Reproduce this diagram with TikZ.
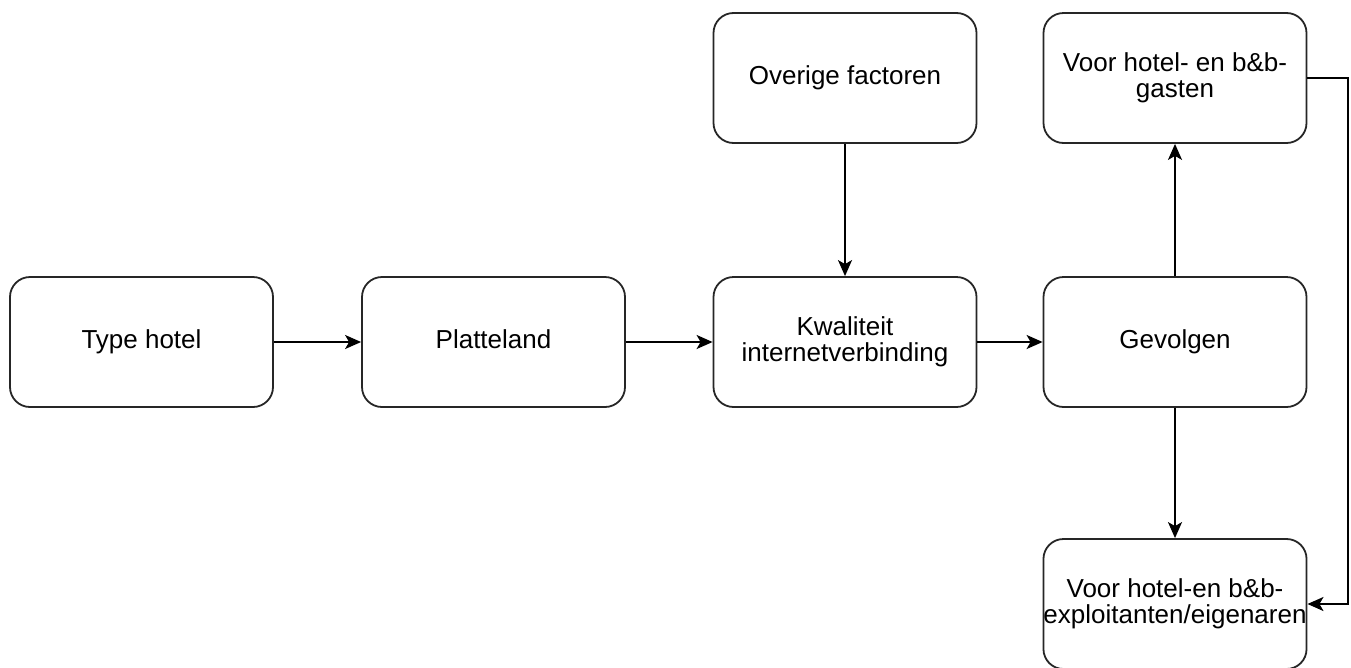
\documentclass[tikz,border=0pt]{standalone}
\usepackage{fontspec}
\setmainfont{Liberation Sans}
\usetikzlibrary{arrows.meta}
\begin{document}
\begin{tikzpicture}[x=1pt,y=-1pt,
  box/.style={draw=black!85,line width=1.8pt,rounded corners=20pt,minimum width=263pt,minimum height=130pt,inner sep=0pt,align=center,font=\fontsize{26}{26}\selectfont,text=black},
  oneline/.style={text height=19pt,text depth=6pt},
  conn/.style={draw=black,line width=1.8pt,-{Stealth[length=16pt,width=14pt,inset=4pt]}}]
\useasboundingbox (0,0) rectangle (1351,667);
\node[box,oneline] (type) at (141.5,342) {Type hotel};
\node[box,oneline] (plat) at (493.5,342) {Platteland};
\node[box] (kwal) at (845,342) {Kwaliteit\\internetverbinding};
\node[box,oneline] (gev) at (1175,342) {Gevolgen};
\node[box,oneline] (over) at (845,78) {Overige factoren};
\node[box] (gast) at (1175,78) {Voor hotel- en b\&b-\\gasten};
\node[box] (expl) at (1175,604) {Voor hotel-en b\&b-\\exploitanten/eigenaren};
\coordinate (c1) at (1348,78);
\coordinate (c2) at (1348,604);
\draw[conn] (type) -- (plat);
\draw[conn] (plat) -- (kwal);
\draw[conn] (kwal) -- (gev);
\draw[conn] (over) -- (kwal);
\draw[conn] (gev) -- (gast);
\draw[conn] (gev) -- (expl);
\draw[conn] (gast.east) -- (c1) -- (c2) -- (expl.east);
\end{tikzpicture}
\end{document}
